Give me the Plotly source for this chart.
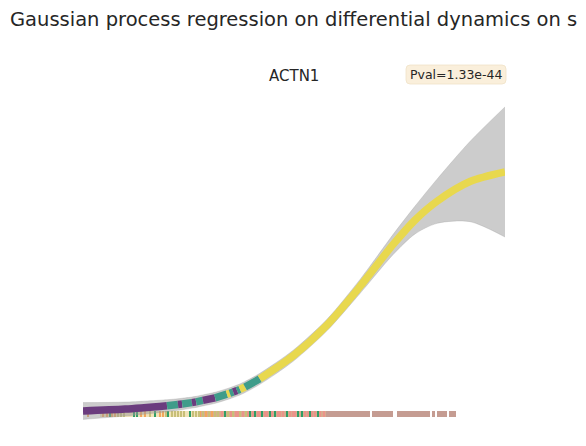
import plotly.graph_objects as go

# ---------------- data ----------------
# pseudotime samples along the GP mean curve
t_vals = [0.000, 0.100, 0.199, 0.225, 0.235, 0.258, 0.268, 0.284, 0.313, 0.341,
          0.348, 0.356, 0.365, 0.372, 0.384, 0.419, 0.498, 0.578, 0.656, 0.735,
          0.787, 0.839, 0.917, 1.000]
mean_vals = [0.000, 0.008, 0.022, 0.027, 0.029, 0.035, 0.038, 0.044, 0.055, 0.070,
             0.074, 0.079, 0.085, 0.090, 0.100, 0.134, 0.230, 0.358, 0.518, 0.694,
             0.796, 0.874, 0.956, 0.996]
band_vals = [0.035, 0.029, 0.025, 0.024, 0.024, 0.023, 0.023, 0.023, 0.023, 0.023,
             0.023, 0.023, 0.023, 0.023, 0.023, 0.023, 0.023, 0.024, 0.029, 0.042,
             0.058, 0.092, 0.167, 0.271]
# cluster label of each piece between consecutive samples
seg_labels = ["P", "P", "T", "P", "T", "P", "T", "P", "T", "Y", "T", "P", "T", "Y", "T",
              "Y", "Y", "Y", "Y", "Y", "Y", "Y", "Y"]
cluster_colors = {"P": "#6b3c7e", "T": "#3f9c8a", "Y": "#e8d84e"}

# rug of cells
rug_orange = [0.012, 0.047, 0.057, 0.069, 0.076, 0.137, 0.147, 0.182, 0.190, 0.277, 0.291, 0.306]
rug_olive = [0.083, 0.090, 0.097, 0.159, 0.197, 0.211, 0.218, 0.225, 0.232, 0.239, 0.261,
             0.268, 0.275, 0.284, 0.299, 0.313, 0.320, 0.344, 0.355, 0.372, 0.386]
rug_green = [0.064, 0.121, 0.128, 0.171, 0.201, 0.254, 0.336, 0.396, 0.408, 0.424, 0.443,
             0.455, 0.483, 0.509, 0.519, 0.538, 0.557]
rug_pink = [0.329, 0.351, 0.363, 0.367, 0.379, 0.391, 0.403, 0.415, 0.419, 0.431, 0.436,
            0.448, 0.462, 0.467, 0.474, 0.491, 0.498, 0.502, 0.526, 0.533, 0.543, 0.550,
            0.562, 0.571]
rug_block_start = [0.040, 0.273, 0.576, 0.685, 0.744, 0.827, 0.839, 0.867]
rug_block_end = [0.273, 0.576, 0.680, 0.735, 0.822, 0.834, 0.863, 0.884]
rug_block_color = ["#f1e3b8", "#d9ab8e", "#c59c92", "#c59c92", "#c59c92", "#c59c92",
                   "#c59c92", "#c59c92"]

gene = "ACTN1"
pval_text = "Pval=1.33e-44"
title_text = "Gaussian process regression on differential dynamics on s"

# ---------------- figure ----------------
fig = go.Figure()

RUG_BASE, RUG_H, TICK_W = -0.025, 0.025, 0.0036

fig.add_trace(go.Bar(
    x=[(s + e) / 2 for s, e in zip(rug_block_start, rug_block_end)],
    y=[RUG_H] * len(rug_block_start), base=RUG_BASE,
    width=[e - s for s, e in zip(rug_block_start, rug_block_end)],
    marker=dict(color=rug_block_color, line=dict(width=0)),
    showlegend=False, hoverinfo="skip"))
for vals, col in [(rug_orange, "#f2a65c"), (rug_olive, "#c7bf78"),
                  (rug_pink, "#ea948a"), (rug_green, "#2f9e66")]:
    fig.add_trace(go.Bar(
        x=vals, y=[RUG_H] * len(vals), base=RUG_BASE, width=TICK_W,
        marker=dict(color=col, line=dict(width=0)),
        showlegend=False, hoverinfo="skip"))

# confidence band
lower = [m - b for m, b in zip(mean_vals, band_vals)]
upper = [m + b for m, b in zip(mean_vals, band_vals)]
fig.add_trace(go.Scatter(x=t_vals, y=lower, mode="lines",
                         line=dict(width=0.6, color="rgba(153,153,153,0.5)", shape="spline", smoothing=0.8),
                         showlegend=False, hoverinfo="skip"))
fig.add_trace(go.Scatter(x=t_vals, y=upper, mode="lines", fill="tonexty",
                         fillcolor="rgba(153,153,153,0.5)",
                         line=dict(width=0.6, color="rgba(153,153,153,0.5)", shape="spline", smoothing=0.8),
                         showlegend=False, hoverinfo="skip"))

# mean curve coloured by cluster: runs of identical labels
i = 0
n = len(seg_labels)
while i < n:
    j = i
    while j + 1 < n and seg_labels[j + 1] == seg_labels[i]:
        j += 1
    xs = t_vals[i:j + 2]
    ys = mean_vals[i:j + 2]
    fig.add_trace(go.Scatter(x=xs, y=ys, mode="lines",
                             line=dict(width=7.5, color=cluster_colors[seg_labels[i]],
                                       shape="spline", smoothing=0.8),
                             showlegend=False, hoverinfo="skip"))
    i = j + 1

W, H = 586, 446
ML, MR, MT, MB = 83, 81, 90, 16
PW, PH = W - ML - MR, H - MT - MB
# y scale: 240 px per unit, y=0 at pixel row 411
ppu = 240.0
y_top = (411 - MT) / ppu
y_bot = (411 - (H - MB)) / ppu


def px_x(p):
    return (p - ML) / PW


def px_y(p):
    return (H - MB - p) / PH


# rounded p-value box (pixel layout -> paper coords)
bx0, bx1, by0, by1 = px_x(406), px_x(506), px_y(84), px_y(65)
rx, ry = 4 / PW, 4 / PH
box_path = (f"M {bx0+rx},{by0} L {bx1-rx},{by0} Q {bx1},{by0} {bx1},{by0+ry} "
            f"L {bx1},{by1-ry} Q {bx1},{by1} {bx1-rx},{by1} L {bx0+rx},{by1} "
            f"Q {bx0},{by1} {bx0},{by1-ry} L {bx0},{by0+ry} Q {bx0},{by0} {bx0+rx},{by0} Z")

fig.update_layout(
    width=W, height=H,
    margin=dict(l=ML, r=MR, t=MT, b=MB, pad=0),
    paper_bgcolor="white", plot_bgcolor="white",
    barmode="overlay", bargap=0,
    font=dict(family="DejaVu Sans", color="#262626"),
    title=dict(text=title_text, x=10 / W, xref="container", xanchor="left",
               y=1 - 19 / H, yref="container", yanchor="middle",
               font=dict(size=19.5, family="DejaVu Sans", color="#262626")),
    xaxis=dict(range=[0, 1], visible=False, fixedrange=True),
    yaxis=dict(range=[y_bot, y_top], visible=False, fixedrange=True),
    shapes=[dict(type="path", path=box_path, xref="paper", yref="paper",
                 fillcolor="#faefdb", line=dict(width=0.8, color="#f0e2c8"), layer="above")],
    annotations=[
        dict(text=gene, x=0.5, y=px_y(76), xref="paper", yref="paper",
             xanchor="center", yanchor="middle", showarrow=False,
             font=dict(size=15, family="DejaVu Sans", color="#262626")),
        dict(text=pval_text, x=px_x(456), y=px_y(74.5), xref="paper", yref="paper",
             xanchor="center", yanchor="middle", showarrow=False,
             font=dict(size=12.5, family="DejaVu Sans", color="#262626")),
    ],
)

fig.write_html("out.html", config={"displayModeBar": False},
               post_script="document.body.style.margin='0';document.body.style.overflow='hidden';")
